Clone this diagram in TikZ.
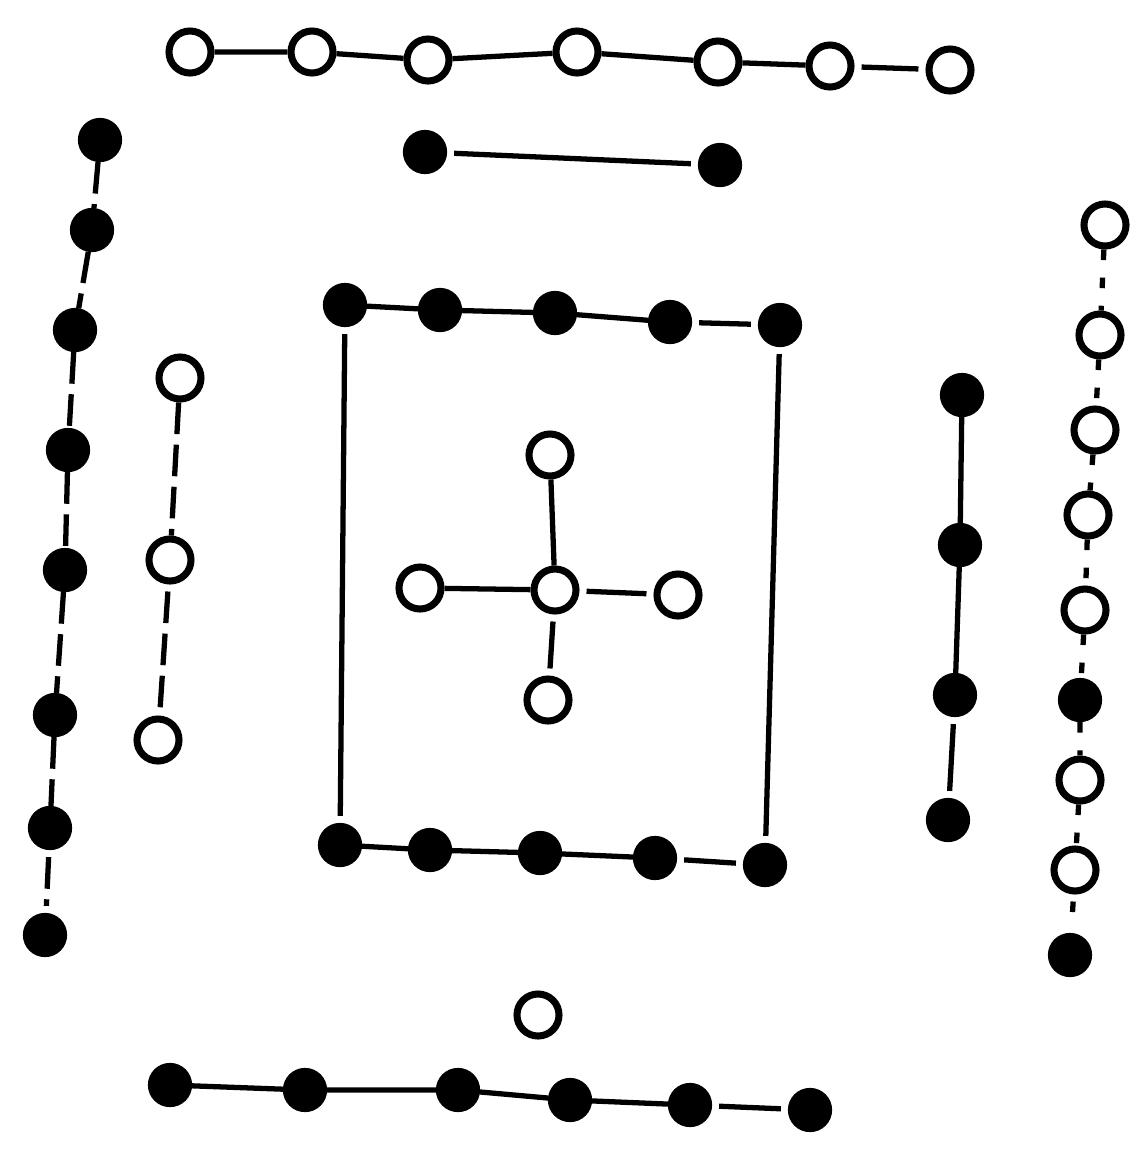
\documentclass[tikz,border=0pt]{standalone}
\usepackage{tikz}
\usetikzlibrary{positioning}

\begin{document}
\begin{tikzpicture}[
  x=0.01cm, y=-0.01cm,
  wdot/.style={circle, draw=black, line width=2pt, fill=white,
               minimum size=0.42cm, inner sep=0pt},
  bdot/.style={circle, draw=black, line width=1.2pt, fill=black,
               minimum size=0.4cm, inner sep=0pt},
  link/.style={line width=1.5pt, shorten >=2pt, shorten <=2pt},
  blink/.style={link, dash pattern=on 9pt off 3pt},
  dlink/.style={link, dash pattern=on 3pt off 5pt}
]
\useasboundingbox (0,0) rectangle (1137,1157);

% Top row: seven white
\node[wdot] (t1) at (190,52) {};
\node[wdot] (t2) at (312,52) {};
\node[wdot] (t3) at (428,60) {};
\node[wdot] (t4) at (577,52) {};
\node[wdot] (t5) at (718,62) {};
\node[wdot] (t6) at (830,66) {};
\node[wdot] (t7) at (950,70) {};

% Second row: two black
\node[bdot] (s1) at (425,152) {};
\node[bdot] (s2) at (720,165) {};

% Left outer column: eight black
\node[bdot] (l1) at (100,140) {};
\node[bdot] (l2) at (92,230) {};
\node[bdot] (l3) at (75,330) {};
\node[bdot] (l4) at (68,450) {};
\node[bdot] (l5) at (65,570) {};
\node[bdot] (l6) at (55,715) {};
\node[bdot] (l7) at (50,828) {};
\node[bdot] (l8) at (45,935) {};

% Left inner column: three white
\node[wdot] (m1) at (180,378) {};
\node[wdot] (m2) at (170,560) {};
\node[wdot] (m3) at (158,740) {};

% Centre square: ten black
\node[bdot] (q1) at (345,305) {};
\node[bdot] (q2) at (440,310) {};
\node[bdot] (q3) at (555,313) {};
\node[bdot] (q4) at (670,322) {};
\node[bdot] (q5) at (780,325) {};
\node[bdot] (p1) at (340,845) {};
\node[bdot] (p2) at (430,850) {};
\node[bdot] (p3) at (540,853) {};
\node[bdot] (p4) at (655,858) {};
\node[bdot] (p5) at (765,865) {};

% Centre cross: five white
\node[wdot] (c0) at (555,590) {};
\node[wdot] (cn) at (550,455) {};
\node[wdot] (cw) at (420,588) {};
\node[wdot] (ce) at (678,595) {};
\node[wdot] (cs) at (548,700) {};

% Right inner column: four black
\node[bdot] (r1) at (962,395) {};
\node[bdot] (r2) at (960,545) {};
\node[bdot] (r3) at (955,695) {};
\node[bdot] (r4) at (948,820) {};

% Right outer column
\node[wdot] (o1) at (1105,225) {};
\node[wdot] (o2) at (1100,335) {};
\node[wdot] (o3) at (1095,430) {};
\node[wdot] (o4) at (1088,515) {};
\node[wdot] (o5) at (1085,610) {};
\node[bdot] (o6) at (1080,700) {};
\node[wdot] (o7) at (1080,780) {};
\node[wdot] (o8) at (1075,870) {};
\node[bdot] (o9) at (1070,955) {};

% Bottom: one white, six black
\node[wdot] (u0) at (538,1015) {};
\node[bdot] (b1) at (170,1085) {};
\node[bdot] (b2) at (305,1090) {};
\node[bdot] (b3) at (458,1090) {};
\node[bdot] (b4) at (570,1100) {};
\node[bdot] (b5) at (690,1105) {};
\node[bdot] (b6) at (810,1110) {};

% Connectors
\draw[link] (t1) -- (t2) -- (t3) -- (t4) -- (t5) -- (t6) -- (t7);
\draw[link] (s1) -- (s2);
\draw[blink] (l1) -- (l2) -- (l3) -- (l4) -- (l5) -- (l6) -- (l7) -- (l8);
\draw[blink] (m1) -- (m2) -- (m3);
\draw[link] (q1) -- (q2) -- (q3) -- (q4) -- (q5);
\draw[link] (p1) -- (p2) -- (p3) -- (p4) -- (p5);
\draw[link] (q1) -- (p1);
\draw[link] (q5) -- (p5);
\draw[link] (cn) -- (c0) -- (cs);
\draw[link] (cw) -- (c0) -- (ce);
\draw[link] (r1) -- (r2) -- (r3) -- (r4);
\draw[dlink] (o1) -- (o2) -- (o3) -- (o4) -- (o5) -- (o6) -- (o7) -- (o8) -- (o9);
\draw[link] (b1) -- (b2) -- (b3) -- (b4) -- (b5) -- (b6);
\end{tikzpicture}
\end{document}
